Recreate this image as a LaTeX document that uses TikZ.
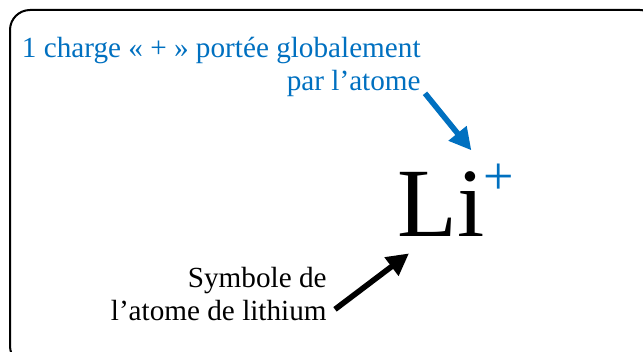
\documentclass[tikz,border=0pt]{standalone}
\usepackage{fontspec}
\setmainfont{Liberation Serif}
\usetikzlibrary{arrows.meta}
\definecolor{charge}{HTML}{0070C0}
\tikzset{
  legende/.style={font=\fontsize{14.6}{16.5}\selectfont, inner sep=0pt, align=right},
  fleche/.style={line width=2.8pt, -{Triangle[length=11pt,width=11pt]}},
}
\begin{document}
\begin{tikzpicture}[x=0.5pt,y=-0.5pt]
  \useasboundingbox (0,0) rectangle (643,352);
  \clip (0,0) rectangle (643,352);
  % cadre
  \draw[line width=1pt, rounded corners=10pt] (10,10) rectangle (660,366);

  % ion
  \node[font=\fontsize{49}{49}\selectfont, inner sep=0pt, anchor=base west] (ion) at (397,237) {Li};
  \node[font=\fontsize{27}{27}\selectfont, inner sep=0pt, charge] (plus) at (499,179) {+};

  % legendes
  \node[legende, charge, anchor=north east] (charge) at (421,37)
    {1 charge «~+~» portée globalement\\par l’atome};
  \node[legende, anchor=north east] (symbole) at (327,267)
    {Symbole de\\l’atome de lithium};

  % fleches
  \draw[fleche, charge] ([shift={(4,-4)}]charge.south east) -- ([shift={(-12,-13)}]plus.north west);
  \draw[fleche] ([shift={(8,-12)}]symbole.south east) -- ([shift={(12,16)}]ion.south west);
\end{tikzpicture}
\end{document}
